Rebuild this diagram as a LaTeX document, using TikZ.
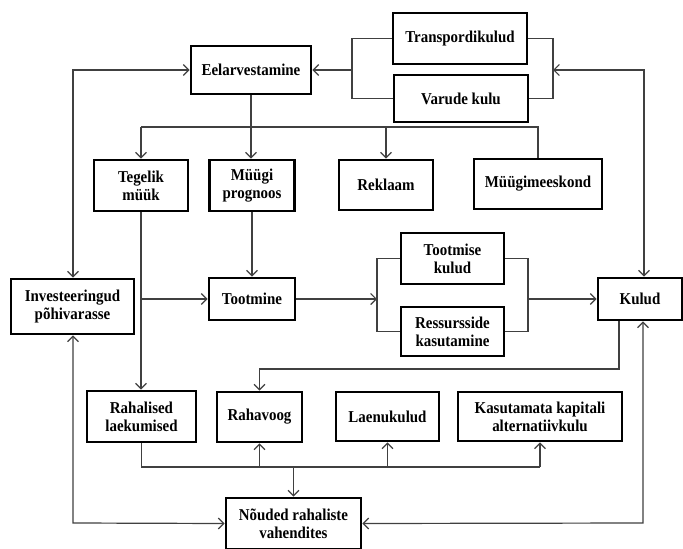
\documentclass[tikz,border=0pt]{standalone}
\usepackage{fontspec}
\setmainfont{Liberation Serif}[FakeStretch=0.9]
\usetikzlibrary{arrows.meta}
\begin{document}
\begin{tikzpicture}[x=1pt,y=-1pt,
  box/.style={draw=black, line width=2.7pt, fill=white, align=center, font=\fontsize{16.6}{17.8}\selectfont\bfseries, inner sep=2pt},
  conn/.style={draw=black!75, line width=1.2pt},
  arr/.style={conn, -{Straight Barb[length=5.5pt,width=11pt]}},
  darr/.style={conn, {Straight Barb[length=5.5pt,width=11pt]}-{Straight Barb[length=5.5pt,width=11pt]}}]
\useasboundingbox (0,0) rectangle (683,549);
\fill[white] (0,0) rectangle (683,549);
% nodes
\node[box, minimum width=134pt, minimum height=51pt] (Tr) at (460,38.5) {Transpordikulud};
\node[box, minimum width=134pt, minimum height=47pt] (Va) at (461,98.5) {Varude kulu};
\node[box, minimum width=120pt, minimum height=48pt] (Ee) at (251,70) {Eelarvestamine};
\node[box, minimum width=94pt, minimum height=51pt] (Tm) at (141,185.5) {Tegelik\\müük};
\node[box, minimum width=85pt, minimum height=51pt] (Mp) at (252,185.5) {Müügi\\prognoos};
\node[box, minimum width=94pt, minimum height=50pt] (Re) at (386,185) {Reklaam};
\node[box, minimum width=128pt, minimum height=50pt] (Mm) at (538,184) {Müügimeeskond};
\node[box, minimum width=123pt, minimum height=55pt] (In) at (72.5,306.5) {Investeeringud\\põhivarasse};
\node[box, minimum width=86pt, minimum height=42pt] (To) at (252,299) {Tootmine};
\node[box, minimum width=103pt, minimum height=51pt] (Tk) at (452.5,258.5) {Tootmise\\kulud};
\node[box, minimum width=103pt, minimum height=49pt] (Rk) at (452.5,331.5) {Ressursside\\kasutamine};
\node[box, minimum width=84pt, minimum height=42pt] (Ku) at (640,299) {Kulud};
\node[box, minimum width=109pt, minimum height=51pt] (Rl) at (141.5,416.5) {Rahalised\\laekumised};
\node[box, minimum width=85pt, minimum height=50pt] (Rv) at (259.5,417) {Rahavoog};
\node[box, minimum width=103pt, minimum height=49pt] (La) at (387.5,416.5) {Laenukulud};
\node[box, minimum width=164pt, minimum height=49pt] (Ka) at (540,416.5) {Kasutamata kapitali\\alternatiivkulu};
\node[box, minimum width=135pt, minimum height=51pt] (No) at (293.5,523.5) {Nõuded rahaliste\\vahendites};
% coordinates
\coordinate (bl) at (352,70);
\coordinate (br) at (553,70);
\coordinate (tr) at (644,70);
\coordinate (tl) at (73,70);
\coordinate (bus1) at (141,127);
\coordinate (bus2) at (538,127);
\coordinate (ml) at (377,299);
\coordinate (mr) at (528,299);
\coordinate (kd) at (619,369);
\coordinate (kr) at (643,523);
\coordinate (kl) at (73,523);
\coordinate (bb) at (540,467);
% connectors
\draw[conn] (Tr.west) -| (bl) |- (Va.west);
\draw[arr] (bl) -- (Ee.east);
\draw[conn] (Tr.east) -| (br) |- (Va.east);
\draw[darr] (br) -- (tr) -- (tr |- Ku.north);
\draw[darr] (Ee.west) -- (tl) -- (tl |- In.north);
\draw[conn] (Ee.south) -- (Ee.south |- bus1);
\draw[conn] (bus1) -- (bus2) -- (Mm.north);
\draw[arr] (bus1) -- (Tm.north);
\draw[arr] (Ee.south |- bus1) -- (Ee.south |- Mp.north);
\draw[arr] (Re.north |- bus1) -- (Re.north);
\draw[arr] (Tm.south) -- (Tm.south |- Rl.north);
\draw[arr] (Tm.south |- To.west) -- (To.west);
\draw[arr] (Mp.south) -- (To.north);
\draw[arr] (To.east) -- (ml);
\draw[conn] (Tk.west) -| (ml) |- (Rk.west);
\draw[conn] (Tk.east) -| (mr) |- (Rk.east);
\draw[arr] (mr) -- (Ku.west);
\draw[arr] (Ku.south -| kd) -- (kd) -| (Rv.north);
\draw[darr] (Ku.south -| kr) -- (kr) -- (No.east);
\draw[darr] (In.south -| kl) -- (kl) -- (No.west);
\draw[conn] (Rl.south) |- (bb);
\draw[arr] (bb) -- (Ka.south);
\draw[arr] (Rv.south |- bb) -- (Rv.south);
\draw[arr] (La.south |- bb) -- (La.south);
\draw[arr] (No.north |- bb) -- (No.north);
\end{tikzpicture}
\end{document}
